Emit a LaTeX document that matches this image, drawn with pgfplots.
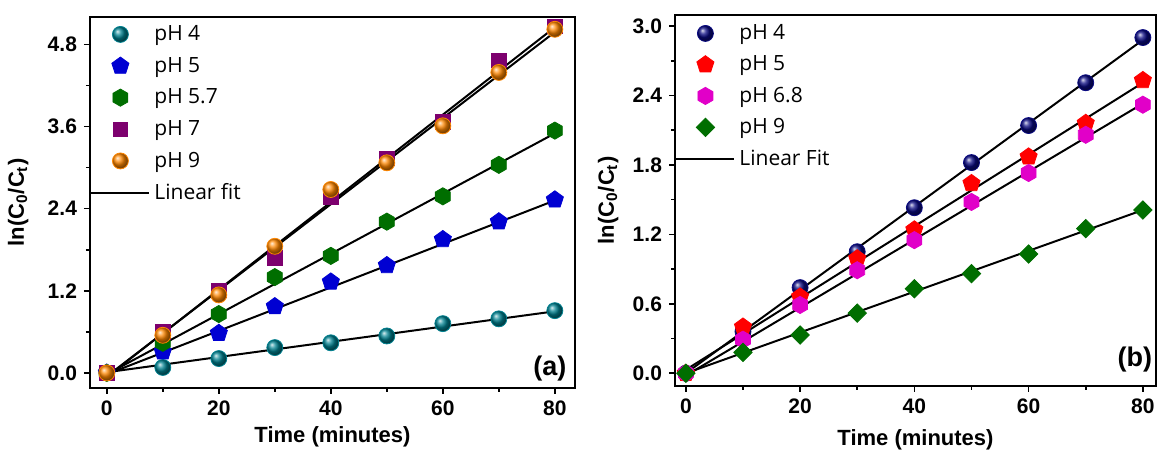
\documentclass[border=0pt]{standalone}
\usepackage{fontspec}
\setmainfont{Liberation Sans}
\newfontfamily\opensans{Open Sans}
\usepackage{pgfplots}
\pgfplotsset{compat=1.18}
\usetikzlibrary{plotmarks}

% hexagon marker, pointy top and bottom
\pgfdeclareplotmark{hexagon*}{%
  \pgfpathmoveto{\pgfqpointpolar{90}{\pgfplotmarksize}}%
  \pgfpathlineto{\pgfqpointpolar{150}{\pgfplotmarksize}}%
  \pgfpathlineto{\pgfqpointpolar{210}{\pgfplotmarksize}}%
  \pgfpathlineto{\pgfqpointpolar{270}{\pgfplotmarksize}}%
  \pgfpathlineto{\pgfqpointpolar{330}{\pgfplotmarksize}}%
  \pgfpathlineto{\pgfqpointpolar{30}{\pgfplotmarksize}}%
  \pgfpathclose
  \pgfusepathqfillstroke}
% square diamond
\pgfdeclareplotmark{rhomb*}{%
  \pgfpathmoveto{\pgfqpoint{0pt}{\pgfplotmarksize}}%
  \pgfpathlineto{\pgfqpoint{\pgfplotmarksize}{0pt}}%
  \pgfpathlineto{\pgfqpoint{0pt}{-\pgfplotmarksize}}%
  \pgfpathlineto{\pgfqpoint{-\pgfplotmarksize}{0pt}}%
  \pgfpathclose
  \pgfusepathqfillstroke}

\definecolor{cteal}{RGB}{0,130,145}
\definecolor{cblue}{RGB}{0,0,210}
\definecolor{cgreen}{RGB}{0,110,0}
\definecolor{cpurple}{RGB}{125,0,110}
\definecolor{corange}{RGB}{255,135,0}
\definecolor{cnavy}{RGB}{10,10,130}
\definecolor{cred}{RGB}{255,0,0}
\definecolor{cmag}{RGB}{225,0,200}

\pgfplotsset{
  panel/.style={
    scale only axis,
    height=185.5pt,
    axis line style={line width=1.2pt},
    tick align=outside,
    tick style={line width=0.8pt,black},
    major tick length=3pt, minor tick length=2pt,
    xtick pos=bottom, ytick pos=left,
    xtick={0,20,40,60,80}, minor x tick num=1,
    minor y tick num=1,
    /pgf/number format/assume math mode=true,
    ticklabel style={font=\bfseries\fontsize{10.5}{12}\selectfont},
    yticklabel style={/pgf/number format/.cd,fixed,fixed zerofill,precision=1},
    label style={font=\bfseries\fontsize{11}{13}\selectfont},
    xlabel={Time (minutes)},
    ylabel={ln(C\textsubscript{0}/C\textsubscript{t})},
    legend style={at={(0,1)},anchor=north west,draw=none,fill=none,
      inner xsep=0pt,inner ysep=2pt,
      font=\opensans\fontsize{10.5}{12}\selectfont,
      row sep=2.8pt,cells={anchor=west}},
  },
  mk/.style={only marks,
    legend image code/.code={\path (0pt,-5pt) (29pt,5pt);\draw[##1] plot coordinates {(14.5pt,0pt)};}},
  fit/.style={no marks,black,line width=1pt,
    legend image code/.code={\path (0pt,-5pt) (29pt,5pt);\draw[##1] (0pt,0pt) -- (29pt,0pt);}},
}

\begin{document}
\begin{tikzpicture}
\useasboundingbox (0,0) rectangle (579pt,226.5pt);

% ---------- (a) ----------
\begin{axis}[panel,
  at={(45pt,32.5pt)}, anchor=south west, width=242.5pt,
  xmin=-3, xmax=83.6, ymin=-0.22, ymax=5.2,
  ytick={0,1.2,2.4,3.6,4.8},
  xlabel style={at={(axis description cs:0.5,-0.132)},anchor=center},
  ylabel style={at={(axis description cs:-0.148,0.5)},anchor=center},
]
\addplot[mk,mark=ball,color=cteal,ball color=cteal,mark size=4pt] coordinates {
 (0,0) (10,0.08) (20,0.21) (30,0.37) (40,0.44) (50,0.54) (60,0.72) (70,0.79) (80,0.91)};
\addlegendentry{pH 4}
\addplot[mk,mark=pentagon*,color=cblue,mark size=4.5pt] coordinates {
 (0,0) (10,0.31) (20,0.58) (30,0.97) (40,1.33) (50,1.57) (60,1.95) (70,2.21) (80,2.53)};
\addlegendentry{pH 5}
\addplot[mk,mark=hexagon*,color=cgreen,mark size=4.3pt] coordinates {
 (0,0) (10,0.44) (20,0.86) (30,1.40) (40,1.71) (50,2.21) (60,2.58) (70,3.04) (80,3.54)};
\addlegendentry{pH 5.7}
\addplot[mk,mark=square*,color=cpurple,mark size=3.6pt] coordinates {
 (0,0) (10,0.60) (20,1.21) (30,1.68) (40,2.56) (50,3.13) (60,3.67) (70,4.57) (80,5.06)};
\addlegendentry{pH 7}
\addplot[mk,mark=ball,color=corange,ball color=corange,mark size=4pt] coordinates {
 (0,0) (10,0.55) (20,1.14) (30,1.85) (40,2.68) (50,3.07) (60,3.61) (70,4.39) (80,5.02)};
\addlegendentry{pH 9}
\addplot[fit] coordinates {(0,0.01) (80,0.90)};
\addlegendentry{Linear fit}
\addplot[fit,forget plot] coordinates {(0,-0.02) (80,2.52)};
\addplot[fit,forget plot] coordinates {(0,-0.02) (80,3.50)};
\addplot[fit,forget plot] coordinates {(0,-0.06) (80,5.05)};
\addplot[fit,forget plot] coordinates {(0,-0.05) (80,4.98)};
\node[font=\bfseries\fontsize{13.5}{15}\selectfont] at (axis description cs:0.948,0.053) {(a)};
\end{axis}

% ---------- (b) ----------
\begin{axis}[panel,
  at={(337.5pt,33.5pt)}, anchor=south west, width=240.5pt,
  xmin=-1.9, xmax=82.3, ymin=-0.11, ymax=3.095,
  ytick={0,0.6,1.2,1.8,2.4,3.0},
  xlabel style={at={(axis description cs:0.5,-0.146)},anchor=center},
  ylabel style={at={(axis description cs:-0.139,0.5)},anchor=center},
  legend style={row sep=2.6pt,inner ysep=2.5pt},
]
\addplot[mk,mark=ball,color=cnavy,ball color=cnavy,mark size=4pt] coordinates {
 (0,0) (10,0.36) (20,0.74) (30,1.05) (40,1.43) (50,1.82) (60,2.14) (70,2.51) (80,2.90)};
\addlegendentry{pH 4}
\addplot[mk,mark=pentagon*,color=cred,mark size=4.5pt] coordinates {
 (0,0) (10,0.40) (20,0.66) (30,0.99) (40,1.24) (50,1.64) (60,1.87) (70,2.16) (80,2.53)};
\addlegendentry{pH 5}
\addplot[mk,mark=hexagon*,color=cmag,mark size=4.3pt] coordinates {
 (0,0) (10,0.29) (20,0.59) (30,0.89) (40,1.15) (50,1.48) (60,1.73) (70,2.06) (80,2.32)};
\addlegendentry{pH 6.8}
\addplot[mk,mark=rhomb*,color=cgreen,mark size=4.6pt] coordinates {
 (0,0) (10,0.18) (20,0.33) (30,0.52) (40,0.73) (50,0.86) (60,1.03) (70,1.25) (80,1.41)};
\addlegendentry{pH 9}
\addplot[fit] coordinates {(0,0.0) (80,2.88)};
\addlegendentry{Linear Fit}
\addplot[fit,forget plot] coordinates {(0,0.03) (80,2.51)};
\addplot[fit,forget plot] coordinates {(0,-0.02) (80,2.33)};
\addplot[fit,forget plot] coordinates {(0,0.0) (80,1.41)};
\node[font=\bfseries\fontsize{13.5}{15}\selectfont] at (axis description cs:0.956,0.07) {(b)};
\end{axis}
\end{tikzpicture}
\end{document}
